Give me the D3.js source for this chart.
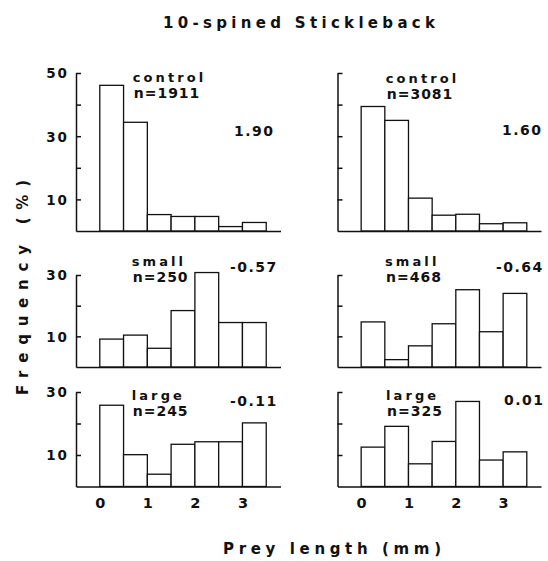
<!DOCTYPE html>
<html>
<head>
<meta charset="utf-8">
<script src="https://cdn.jsdelivr.net/npm/d3@7"></script>
<style>
  body { margin: 0; background: #fff; }
  svg { display: block; }
  text { font-family: "DejaVu Sans", sans-serif; font-weight: bold; fill: #111; }
</style>
</head>
<body>
<script>
// Prey length distributions, 10-spined stickleback
const binStarts = [0, 0.5, 1, 1.5, 2, 2.5, 3];
const binWidth = 0.5;
const xTickValues = [0, 1, 2, 3];

const controlLeft  = [46.1, 34.4, 5.2, 4.6, 4.6, 1.4, 2.7];
const smallLeft    = [9.1, 10.4, 6.1, 18.4, 30.8, 14.5, 14.5];
const largeLeft    = [25.8, 10.1, 3.9, 13.4, 14.2, 14.2, 20.2];
const controlRight = [39.4, 35.0, 10.4, 5.0, 5.3, 2.3, 2.6];
const smallRight   = [14.7, 2.4, 6.9, 14.1, 25.2, 11.5, 24.0];
const largeRight   = [12.5, 19.1, 7.2, 14.3, 27.0, 8.4, 11.0];

const groupNames = ["control", "small", "large"];
const nLeft  = [1911, 250, 245];
const nRight = [3081, 468, 325];
const coefLeft  = ["1.90", "-0.57", "-0.11"];
const coefRight = ["1.60", "-0.64", "0.01"];
const yMaxByRow = [50, 30, 30];
const yLabelTicks = [[50, 30, 10], [30, 10], [30, 10]];

(function() {
    const width = 548, height = 561;
    const svg = d3.select("body").append("svg")
        .attr("width", width)
        .attr("height", height);

    // panel layout (pixels)
    const rows = [
        { top: 73, base: 231 },
        { top: 275, base: 367 },
        { top: 392, base: 486.5 }
    ];
    const cols = [
        { axis: 76, end: 280.5 },
        { axis: 337.5, end: 541 }
    ];
    // annotation positions: [col][row]
    const notes = [
        [ { nx: 132.7, ny: 82, cx: 234, cy: 135.5 },
          { nx: 131.7, ny: 265.5, cx: 230, cy: 271.7 },
          { nx: 131.7, ny: 400, cx: 230, cy: 405.5 } ],
        [ { nx: 385.7, ny: 82.7, cx: 502, cy: 135 },
          { nx: 385, ny: 266, cx: 496, cy: 271.7 },
          { nx: 386, ny: 400, cx: 504, cy: 405 } ]
    ];

    const series = [
        [controlLeft, smallLeft, largeLeft],
        [controlRight, smallRight, largeRight]
    ];
    const counts = [nLeft, nRight];
    const coefs = [coefLeft, coefRight];

    cols.forEach((col, ci) => {
        const x = d3.scaleLinear().domain([-0.5, 3.8]).range([col.axis, col.end]);

        rows.forEach((row, ri) => {
            const y = d3.scaleLinear().domain([0, yMaxByRow[ri]]).range([row.base, row.top]);
            const g = svg.append("g");

            // bars
            g.selectAll("rect")
                .data(series[ci][ri])
                .join("rect")
                .attr("x", (d, i) => x(binStarts[i]))
                .attr("y", d => y(d))
                .attr("width", x(binWidth) - x(0))
                .attr("height", d => y(0) - y(d))
                .attr("fill", "#fff")
                .attr("stroke", "#111")
                .attr("stroke-width", 1.3);

            // y axis, inward ticks every 10
            const labelled = yLabelTicks[ri];
            const yAxis = d3.axisLeft(y)
                .tickValues(d3.range(10, yMaxByRow[ri] + 1, 10))
                .tickSizeInner(-5)
                .tickSizeOuter(0)
                .tickPadding(7)
                .tickFormat(d => (ci === 0 && labelled.includes(d)) ? d : "");
            const ya = g.append("g")
                .attr("transform", `translate(${col.axis},0)`)
                .call(yAxis);
            ya.selectAll("path, line").attr("stroke", "#111").attr("stroke-width", 1.5);
            ya.selectAll("text")
                .style("font-size", "13.5px")
                .style("letter-spacing", "2px")
                .attr("dy", "0.36em");

            // x axis
            const xAxis = d3.axisBottom(x)
                .tickValues(xTickValues)
                .tickSizeInner(0)
                .tickSizeOuter(0)
                .tickFormat(ri === 2 ? d3.format("d") : () => "");
            const xa = g.append("g")
                .attr("transform", `translate(0,${row.base})`)
                .call(xAxis);
            xa.selectAll("path").attr("stroke", "#111").attr("stroke-width", 1.6);
            xa.selectAll("text")
                .style("font-size", "14.5px")
                .attr("y", 21)
                .attr("dy", 0);

            // annotations
            const p = notes[ci][ri];
            g.append("text")
                .attr("x", p.nx).attr("y", p.ny)
                .style("font-size", "13px")
                .style("letter-spacing", "3.1px")
                .text(groupNames[ri]);
            g.append("text")
                .attr("x", p.nx + 1).attr("y", p.ny + 16)
                .style("font-size", "14px")
                .style("letter-spacing", "1px")
                .text("n=" + counts[ci][ri]);
            g.append("text")
                .attr("x", p.cx).attr("y", p.cy)
                .style("font-size", "14px")
                .style("letter-spacing", "1.5px")
                .text(coefs[ci][ri]);
        });
    });

    // title and axis titles
    svg.append("text")
        .attr("x", 163).attr("y", 27.5)
        .attr("textLength", 272)
        .attr("lengthAdjust", "spacing")
        .style("font-size", "15px")
        .text("10-spined Stickleback");

    svg.append("text")
        .attr("x", 223).attr("y", 554)
        .attr("textLength", 218)
        .attr("lengthAdjust", "spacing")
        .style("font-size", "15px")
        .text("Prey length (mm)");

    svg.append("text")
        .attr("transform", "translate(28,395) rotate(-90)")
        .attr("textLength", 215)
        .attr("lengthAdjust", "spacing")
        .style("font-size", "15px")
        .text("Frequency (%)");
})();
</script>
</body>
</html>
